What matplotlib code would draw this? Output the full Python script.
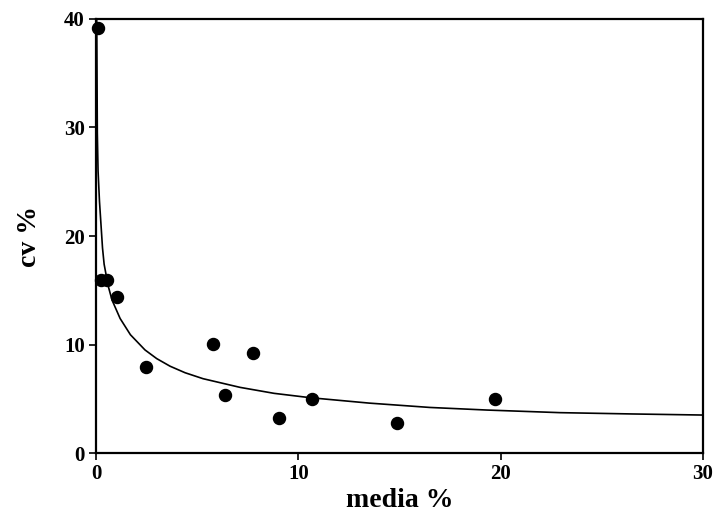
import numpy as np
from matplotlib import pyplot as plt

plt.rcParams['font.family'] = ['Liberation Serif', 'DejaVu Serif']
plt.rcParams['font.weight'] = 'bold'

# observed points (media %, cv %)
media = [0.1, 0.25, 0.55, 1.04, 2.47, 5.78, 6.38, 7.76, 9.05, 10.68, 14.88, 19.72]
cv = [39.2, 15.9, 15.9, 14.4, 7.9, 10.05, 5.35, 9.2, 3.2, 5.0, 2.8, 5.0]

# fitted curve
curve_x = [0.03, 0.035, 0.064, 0.1, 0.17, 0.32, 0.40, 0.6, 0.79, 1.19, 1.7,
           2.42, 3.0, 3.66, 4.4, 5.29, 7.12, 8.8, 10.58, 13.5, 16.5, 19.33,
           22.94, 26.5, 30.0]
curve_y = [40.0, 39.7, 29.5, 26.0, 23.2, 18.9, 17.4, 15.4, 14.1, 12.4, 10.9,
           9.5, 8.7, 8.0, 7.4, 6.85, 6.05, 5.5, 5.1, 4.6, 4.2, 3.96,
           3.72, 3.6, 3.5]

x_ticks = [0, 10, 20, 30]
y_ticks = [0, 10, 20, 30, 40]

fig = plt.figure(figsize=(7.14, 5.2), dpi=100)
ax = fig.add_axes([0.1345, 0.1288, 0.8501, 0.8347])

ax.plot(curve_x, curve_y, color='black', linewidth=1.2)
ax.scatter(media, cv, s=75, color='black', zorder=3, clip_on=False)

ax.set_xlim(0, 30)
ax.set_ylim(0, 40)
ax.set_xticks(x_ticks)
ax.set_yticks(y_ticks)
ax.tick_params(direction='out', length=5, width=1.2, labelsize=15, pad=3,
               top=False, right=False)
for lab in ax.get_xticklabels() + ax.get_yticklabels():
    lab.set_fontweight('bold')
for s in ax.spines.values():
    s.set_linewidth(1.6)

ax.set_xlabel('media %', fontsize=20, fontweight='bold', labelpad=3)
ax.set_ylabel('cv %', fontsize=20, fontweight='bold', labelpad=16)

fig.savefig('out.png', dpi=100)
